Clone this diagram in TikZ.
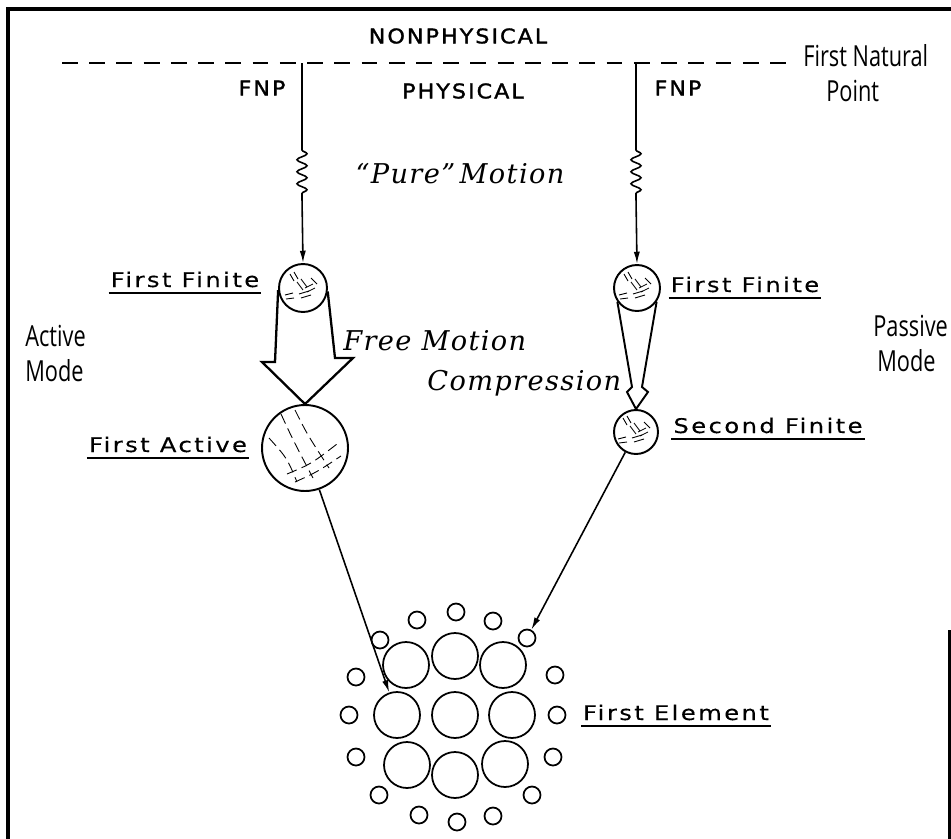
\documentclass[tikz,border=0pt]{standalone}
\usepackage{fontspec}
\usepackage{tikz}
\usetikzlibrary{arrows.meta, positioning, calc, decorations.pathmorphing}
\newfontfamily\capsfont[LetterSpace=10, FakeStretch=1.1, FakeBold=1.5]{DejaVu Sans}
\newfontfamily\handfont[LetterSpace=12, FakeStretch=1.2, FakeBold=0.3]{DejaVu Sans}
\newfontfamily\notefont[FakeStretch=0.75]{Open Sans}
\newfontfamily\slantfont[LetterSpace=5]{DejaVu Serif}

% scratch marks inside the small particles
\newcommand{\hatchfinite}[1]{%
  \begin{scope}[shift={(#1)}, line width=0.5pt]
    \foreach \xa/\ya/\xb/\yb in {-13/-14/-9/-7, -9/-16/-5/-9, -6/-6/0/2, -2/-9/4/-1,
        2/0/10/-4, 4/4/12/0, -4/6/6/3, -2/10/8/7, -18/7/-10/5, -17/11/-9/10, 8/-10/14/-4}
      \draw (\xa,\ya) -- (\xb,\yb);
  \end{scope}}
% long dashed strokes inside the big particle
\newcommand{\hatchactive}[1]{%
  \begin{scope}[shift={(#1)}, line width=0.5pt, dash pattern=on 6pt off 3pt]
    \draw (-24,-34) .. controls (-12,-8) .. (8,30);
    \draw (-10,-38) .. controls (2,-14) .. (24,20);
    \draw (-36,-10) .. controls (-18,10) .. (-8,34);
    \draw (-18,26) .. controls (6,16) .. (32,-4);
    \draw (-10,34) .. controls (12,24) .. (36,8);
  \end{scope}}

\begin{document}
\begin{tikzpicture}[x=0.02cm, y=-0.02cm,
    every node/.style={inner sep=0pt},
    caps/.style={font=\capsfont\fontsize{11.5}{13}\selectfont},
    hand/.style={font=\handfont\fontsize{11.5}{13}\selectfont, anchor=base,
                 inner xsep=1pt, inner ysep=3pt},
    note/.style={font=\notefont\fontsize{16.5}{18}\selectfont, anchor=base west},
    slanted/.style={font=\slantfont\itshape\fontsize{15.5}{18}\selectfont, anchor=base west},
    finite/.style={circle, draw, line width=1.1pt, minimum size=#1},
    grain/.style={circle, draw, line width=1pt, minimum size=#1},
    feed/.style={-{Latex[length=7pt,width=3.5pt]}, line width=0.9pt},
    wavy/.style={decoration={snake, segment length=0.24cm, amplitude=0.1cm}},
    uline/.style={line width=0.8pt}
]
    \useasboundingbox (0,0) rectangle (951,839);

    % frame
    \draw[line width=1.8pt] (8,839) -- (8,9) -- (951,9);
    \draw[line width=1.8pt] (950,630) -- (950,839);

    % first natural point level
    \coordinate (lineW) at (62,63);
    \coordinate (lineE) at (797,63);
    \draw[line width=1.1pt, dash pattern=on 9pt off 6.5pt] (lineW) -- (lineE);
    \node[caps] (nonphys) at (458,36) {NONPHYSICAL};
    \node[caps] (phys) at (463,91) {PHYSICAL};
    \node[caps] (fnpL) at (262,88) {FNP};
    \node[caps] (fnpR) at (678,88) {FNP};
    \node[note] (fnpt) at (803,66) {First Natural};
    \node[note] (fnpt2) at (826,101) {Point};

    % modes
    \node[note] (actA) at (25,346) {Active};
    \node[note] (actM) at (25,381) {Mode};
    \node[note] (pasA) at (873,336) {Passive};
    \node[note] (pasM) at (877,371) {Mode};

    % particles
    \node[finite=0.96cm] (ffL) at (303,288) {};
    \node[finite=0.92cm] (ffR) at (637,288) {};
    \node[finite=1.72cm] (fa) at (305,448) {};
    \node[finite=0.88cm] (sf) at (636,432) {};
    \hatchfinite{ffL.center}
    \hatchfinite{ffR.center}
    \hatchfinite{sf.center}
    \hatchactive{fa.center}

    % labels
    \node[hand] (ffLlbl) at (185,287) {First Finite};
    \node[hand] (ffRlbl) at (745,292) {First Finite};
    \node[hand] (falbl) at (168,452) {First Active};
    \node[hand] (sflbl) at (768,433) {Second Finite};
    \node[hand] (elbl) at (676,720) {First Element};
    \foreach \l in {ffLlbl, ffRlbl, falbl, sflbl, elbl}
      \draw[uline] (\l.south west) -- (\l.south east);

    \node[slanted, anchor=base] (pure) at (460,183) {“Pure”\,Motion};
    \node[slanted] (free) at (343,350) {Free Motion};
    \node[slanted] (compr) at (427,390) {Compression};

    % motion down from the first natural point
    \coordinate (topL) at (302,63);
    \coordinate (topR) at (636,63);
    \draw[feed] (topL) -- (302,150) decorate[wavy] {-- (302,198)} -- (ffL.north);
    \draw[feed] (topR) -- (636,150) decorate[wavy] {-- (636,198)} -- (ffR.north);

    % hollow arrows
    \draw[line width=1.3pt, line join=miter] (ffL.185) -- (275,362) -- (262,362)
      -- (fa.north) -- (353,358) -- (335,358) -- (ffL.352);
    \draw[line width=1.1pt] (ffR.215) -- (632,387) -- (627,392)
      -- (sf.north) -- (648,392) -- (642,387) -- (ffR.325);

    % first element
    \foreach \n/\px/\py in {1/406/665, 2/455/656, 3/503/665, 4/397/715, 5/455/715,
        6/512/715, 7/407/765, 8/455/775, 9/505/764}
      \node[grain=0.92cm] (e\n) at (\px,\py) {};
    \foreach \n/\px/\py in {1/380/640, 2/417/620, 3/456/612, 4/493/621, 5/527/638,
        6/555/675, 7/557/715, 8/553/757, 9/532/795, 10/493/816, 11/457/822,
        12/419/815, 13/379/795, 14/356/757, 15/349/715, 16/356/677}
      \node[grain=0.34cm] (s\n) at (\px,\py) {};

    \draw[feed] (fa) -- (e4);
    \draw[feed] (sf) -- (s5);
\end{tikzpicture}
\end{document}
